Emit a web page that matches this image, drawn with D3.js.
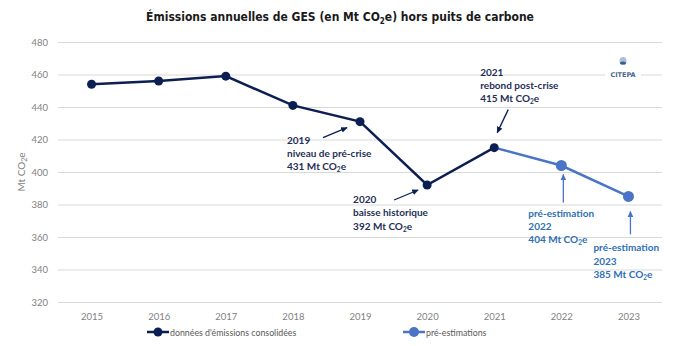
<!DOCTYPE html>
<html><head><meta charset="utf-8">
<script src="https://cdn.jsdelivr.net/npm/d3@7/dist/d3.min.js"></script>
<style>
body{margin:0;background:#fff;}
svg{display:block;font-family:"DejaVu Sans",sans-serif;}
.ttl{font-family:"DejaVu Sans Condensed","DejaVu Sans",sans-serif;font-stretch:condensed;}
</style></head>
<body><svg id="c" width="700" height="346"></svg>
<script>
const years = ["2015","2016","2017","2018","2019","2020","2021","2022","2023"];
const consolidated = [454, 456, 459, 441, 431, 392, 415, null, null];
const estimates = [null, null, null, null, null, null, 415, 404, 385];
const yTicks = [320, 340, 360, 380, 400, 420, 440, 460, 480];
const seriesNames = ["données d'émissions consolidées", "pré-estimations"];
const annotations = [
  {year:"2019", value:431, lines:["2019","niveau de pré-crise","431 Mt CO|2|e"], kind:"dark"},
  {year:"2020", value:392, lines:["2020","baisse historique","392 Mt CO|2|e"], kind:"dark"},
  {year:"2021", value:415, lines:["2021","rebond post-crise","415 Mt CO|2|e"], kind:"dark"},
  {year:"2022", value:404, lines:["pré-estimation","2022","404 Mt CO|2|e"], kind:"light"},
  {year:"2023", value:385, lines:["pré-estimation","2023","385 Mt CO|2|e"], kind:"light"}
];

const svg = d3.select("#c");
const dark = "#0c1f52", light = "#4a74c6";
const darkText = "#1f2f55", lightText = "#2f6fb5";
const x = d3.scalePoint().domain(years).range([58, 662]).padding(0.5);
const y = d3.scaleLinear().domain([320, 480]).range([302, 42]);

// title
const t = svg.append("text").attr("class","ttl").attr("x", 340).attr("y", 21).attr("text-anchor","middle")
  .attr("font-size", 12).attr("font-weight","bold").attr("fill","#1a1a1a");
t.append("tspan").text("Émissions annuelles de GES (en Mt CO");
t.append("tspan").attr("font-size",8).attr("dy",3).text("2");
t.append("tspan").attr("dy",-3).text("e) hors puits de carbone");

// grid + y axis
const yAxis = d3.axisLeft(y).tickValues(yTicks).tickSize(-(662-58)).tickPadding(10);
const gy = svg.append("g").attr("transform","translate(58,0)").call(yAxis);
gy.select(".domain").remove();
gy.selectAll(".tick line").attr("stroke","#d9d9d9").attr("stroke-width",1);
gy.selectAll(".tick text").attr("fill","#7f7f7f").attr("font-size",9.5).attr("font-family","Lato, sans-serif");

const xAxis = d3.axisBottom(x).tickSize(0).tickPadding(11);
const gx = svg.append("g").attr("transform","translate(0,302)").call(xAxis);
gx.select(".domain").remove();
gx.selectAll(".tick text").attr("fill","#7f7f7f").attr("font-size",9.5).attr("font-family","Lato, sans-serif");

// y label
const yl = svg.append("text").attr("transform","translate(25,172) rotate(-90)").attr("text-anchor","middle")
  .attr("fill","#7f7f7f").attr("font-size",10).attr("font-family","Lato, sans-serif");
yl.append("tspan").text("Mt CO");
yl.append("tspan").attr("font-size",7).attr("dy",2).text("2");
yl.append("tspan").attr("dy",-2).text("e");

// CITEPA logo (drawn over grid)
const logo = svg.append("g").attr("transform","translate(623,61)");
logo.append("rect").attr("x",-18).attr("y",8).attr("width",36).attr("height",10).attr("fill","#fff");
logo.append("ellipse").attr("cx",0).attr("cy",0).attr("rx",3.5).attr("ry",4).attr("fill","#a8c0dc");
logo.append("ellipse").attr("cx",0).attr("cy",2).attr("rx",3).attr("ry",1.6).attr("fill","#3a5f8f");
logo.append("text").attr("x",0).attr("y",16).attr("text-anchor","middle").attr("font-size",6.5)
  .attr("font-weight","bold").attr("fill","#4a6a8f").attr("font-family","'DejaVu Sans',sans-serif").text("CITEPA");

// lines
const line = d3.line().defined(d => d.v != null).x(d => x(d.y)).y(d => y(d.v));
const d1 = years.map((yr,i)=>({y:yr, v:consolidated[i]}));
const d2 = years.map((yr,i)=>({y:yr, v:estimates[i]}));
svg.append("path").datum(d2).attr("d", line).attr("fill","none").attr("stroke",light).attr("stroke-width",2.5);
svg.append("path").datum(d1).attr("d", line).attr("fill","none").attr("stroke",dark).attr("stroke-width",2.5);
svg.selectAll(".p2").data(d2.filter(d=>d.v!=null && d.y!=="2021")).enter().append("circle")
  .attr("cx", d=>x(d.y)).attr("cy", d=>y(d.v)).attr("r",5.5).attr("fill",light);
svg.selectAll(".p1").data(d1.filter(d=>d.v!=null)).enter().append("circle")
  .attr("cx", d=>x(d.y)).attr("cy", d=>y(d.v)).attr("r",4.5).attr("fill",dark);

// arrow markers
const defs = svg.append("defs");
[["ad",dark],["al",light]].forEach(([id,c])=>{
  defs.append("marker").attr("id",id).attr("viewBox","0 0 10 10").attr("refX",9).attr("refY",5)
    .attr("markerWidth",5).attr("markerHeight",5).attr("orient","auto")
    .append("path").attr("d","M0,0.5 L10,5 L0,9.5 z").attr("fill",c);
});

// annotation layout: text offset and arrow (from, to) relative to the data point
const layout = {
  "2019": {tx:-73, ty:22, a:[-37,16,-13,6]},
  "2020": {tx:-74, ty:18, a:[-33,15,-9,5]},
  "2021": {tx:-14, ty:-72, a:[14,-38,3,-15]},
  "2022": {tx:-33, ty:51, a:[2,37,2,9]},
  "2023": {tx:-35, ty:55, a:[2,38,2,15]}
};
annotations.forEach(an=>{
  const px = x(an.year), py = y(an.value), L = layout[an.year];
  const col = an.kind==="dark" ? darkText : lightText;
  const arrowCol = an.kind==="dark" ? dark : light;
  svg.append("line").attr("x1",px+L.a[0]).attr("y1",py+L.a[1]).attr("x2",px+L.a[2]).attr("y2",py+L.a[3])
    .attr("stroke",arrowCol).attr("stroke-width",1.3).attr("marker-end", an.kind==="dark"?"url(#ad)":"url(#al)");
  an.lines.forEach((ln,i)=>{
    const tx = svg.append("text").attr("x",px+L.tx).attr("y",py+L.ty+i*13.3)
      .attr("font-size",10).attr("font-weight","bold").attr("fill",col)
      .attr("font-family","Lato, sans-serif");
    const parts = ln.split("|");
    parts.forEach((p,j)=>{
      if(j===1) tx.append("tspan").attr("font-size",6.5).attr("dy",2).text(p);
      else if(j===2) tx.append("tspan").attr("dy",-2).text(p);
      else tx.append("tspan").text(p);
    });
  });
});

// legend
const leg = [{name:seriesNames[0], c:dark, x:147, r:4.5}, {name:seriesNames[1], c:light, x:403, r:5}];
leg.forEach(l=>{
  const g = svg.append("g").attr("transform",`translate(${l.x},332)`);
  g.append("line").attr("x1",0).attr("x2",22).attr("stroke",l.c).attr("stroke-width",2.5);
  g.append("circle").attr("cx",11).attr("r",l.r).attr("fill",l.c);
  g.append("text").attr("x",23).attr("y",3.5).attr("font-size",8.8).attr("fill","#595959")
    .attr("font-family","Lato, sans-serif").text(l.name);
});
</script>
</body></html>
